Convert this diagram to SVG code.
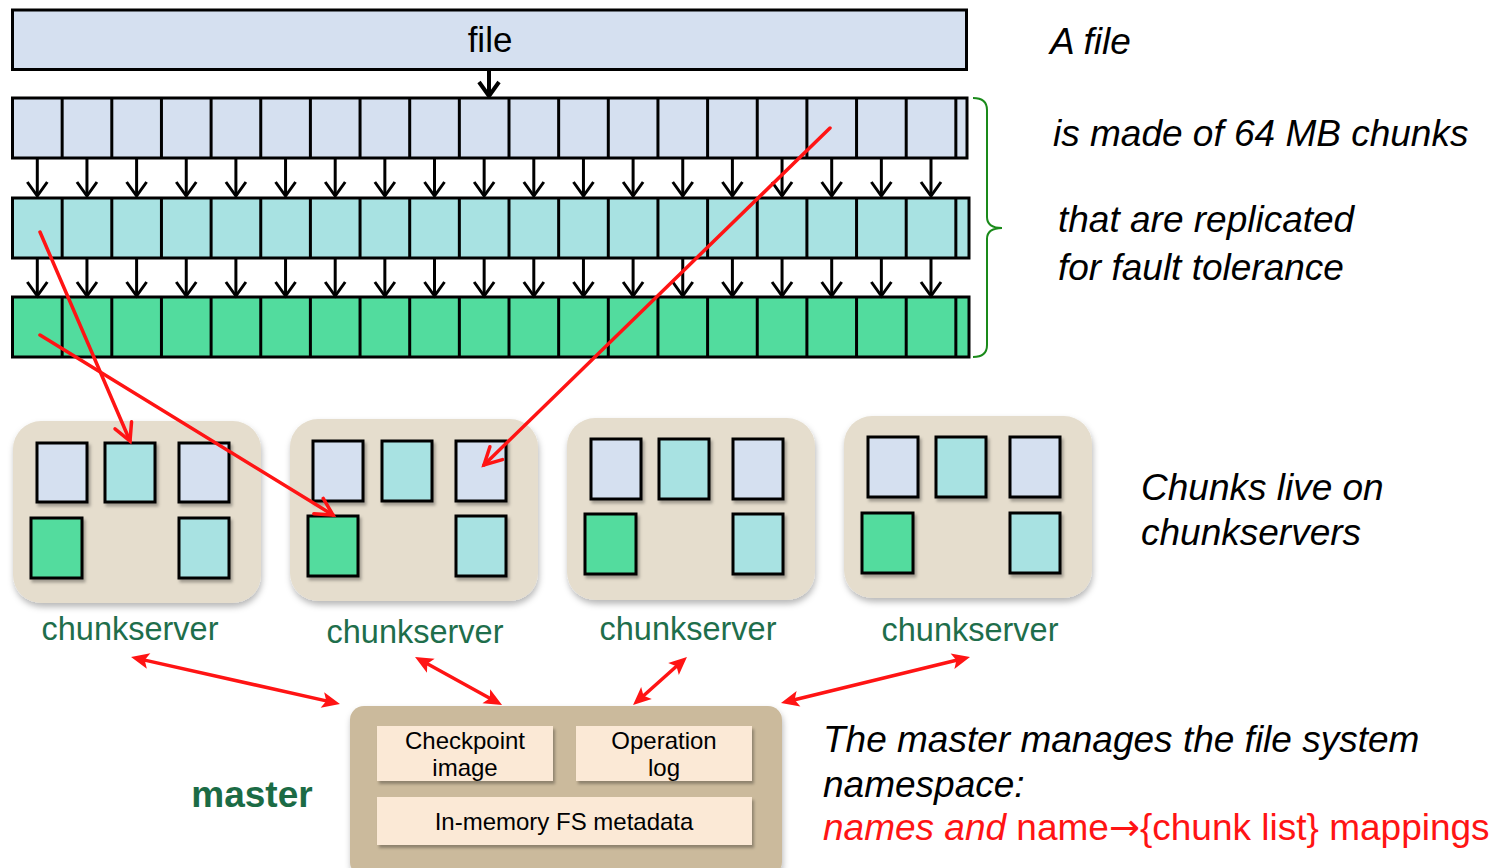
<svg xmlns="http://www.w3.org/2000/svg" xmlns:xlink="http://www.w3.org/1999/xlink" width="1508" height="868" viewBox="0 0 1508 868">
  <style>
    .cellrow { stroke: #000; stroke-width: 3; }
    .grid { stroke: #000; stroke-width: 3; fill: none; }
    .c-blue { fill: #d5e0f0; }
    .c-teal { fill: #a8e2e2; }
    .c-green { fill: #52dc9e; }
    .chunk { stroke: #000; stroke-width: 3; filter: url(#boxShadow); }
    .server { fill: #e5ddcd; filter: url(#serverShadow); }
    .cs-label { font-family: "Liberation Sans", Arial, sans-serif; font-size: 32.5px; fill: #1e6e4b; text-anchor: middle; }
    .note { font-family: "Liberation Sans", Arial, sans-serif; font-size: 37px; font-style: italic; fill: #000; }
    .inner { fill: #fbe9d6; filter: url(#boxShadow); }
    .inner-text { font-family: "Liberation Sans", Arial, sans-serif; font-size: 24px; fill: #000; text-anchor: middle; }
    .red { stroke: #ff1414; stroke-width: 3.5; fill: none; stroke-linecap: round; }
    .down line, .down path { stroke: #000; stroke-width: 3; fill: none; }
  </style>
  <defs>
    <filter id="serverShadow" x="-10%" y="-10%" width="125%" height="130%">
      <feDropShadow dx="1" dy="4" stdDeviation="3" flood-color="#000" flood-opacity="0.28"/>
    </filter>
    <filter id="boxShadow" x="-20%" y="-20%" width="150%" height="150%">
      <feDropShadow dx="2" dy="3" stdDeviation="1.5" flood-color="#000" flood-opacity="0.3"/>
    </filter>
    <marker id="openRed" markerUnits="userSpaceOnUse" markerWidth="40" markerHeight="40" orient="auto" overflow="visible">
      <path d="M-17,-9 L0,0 L-17,9" stroke="#ff1414" stroke-width="3.5" fill="none" stroke-linecap="round"/>
    </marker>
    <marker id="solidRed" markerUnits="userSpaceOnUse" markerWidth="40" markerHeight="40" refX="0" refY="0" orient="auto-start-reverse" overflow="visible">
      <path d="M-4,-8 L14,0 L-4,8 L0,0 Z" fill="#ff1414"/>
    </marker>
    <g id="down" class="down">
      <line x1="0" y1="0" x2="0" y2="38"/>
      <path d="M-10,24 L0,38 L10,24"/>
    </g>
  </defs>

  <rect width="1508" height="868" fill="#fff"/>

  <!-- whole file -->
  <g id="file">
    <rect x="12.5" y="10" width="954" height="59.5" class="c-blue cellrow"/>
    <text x="490" y="52" font-family="Liberation Sans, Arial, sans-serif" font-size="35" text-anchor="middle">file</text>
    <line x1="489" y1="70" x2="489" y2="95" stroke="#000" stroke-width="4"/>
    <path d="M479,82 L489,96 L499,82" stroke="#000" stroke-width="4" fill="none"/>
  </g>

  <!-- chunk row 1 -->
  <g id="chunks-primary">
    <rect x="12.5" y="98" width="954.5" height="60" class="c-blue cellrow"/>
    <path class="grid" d="M62.15,98V158M111.8,98V158M161.45,98V158M211.1,98V158M260.75,98V158M310.4,98V158M360.05,98V158M409.7,98V158M459.35,98V158M509,98V158M558.65,98V158M608.3,98V158M657.95,98V158M707.6,98V158M757.25,98V158M806.9,98V158M856.55,98V158M906.2,98V158M955.85,98V158"/>
  </g>

  <!-- chunk row 2 -->
  <g id="chunks-replica-1">
    <rect x="12.5" y="198" width="956.5" height="60" class="c-teal cellrow"/>
    <path class="grid" d="M62.15,198V258M111.8,198V258M161.45,198V258M211.1,198V258M260.75,198V258M310.4,198V258M360.05,198V258M409.7,198V258M459.35,198V258M509,198V258M558.65,198V258M608.3,198V258M657.95,198V258M707.6,198V258M757.25,198V258M806.9,198V258M856.55,198V258M906.2,198V258M955.85,198V258"/>
  </g>

  <!-- chunk row 3 -->
  <g id="chunks-replica-2">
    <rect x="12.5" y="297" width="956.5" height="60" class="c-green cellrow"/>
    <path class="grid" d="M62.15,297V357M111.8,297V357M161.45,297V357M211.1,297V357M260.75,297V357M310.4,297V357M360.05,297V357M409.7,297V357M459.35,297V357M509,297V357M558.65,297V357M608.3,297V357M657.95,297V357M707.6,297V357M757.25,297V357M806.9,297V357M856.55,297V357M906.2,297V357M955.85,297V357"/>
  </g>

  <!-- replication arrows between rows -->
  <g id="replication-arrows">
    <use href="#down" x="37.3" y="158"/><use href="#down" x="86.95" y="158"/><use href="#down" x="136.6" y="158"/><use href="#down" x="186.25" y="158"/><use href="#down" x="235.9" y="158"/><use href="#down" x="285.55" y="158"/><use href="#down" x="335.2" y="158"/><use href="#down" x="384.85" y="158"/><use href="#down" x="434.5" y="158"/><use href="#down" x="484.15" y="158"/><use href="#down" x="533.8" y="158"/><use href="#down" x="583.45" y="158"/><use href="#down" x="633.1" y="158"/><use href="#down" x="682.75" y="158"/><use href="#down" x="732.4" y="158"/><use href="#down" x="782.05" y="158"/><use href="#down" x="831.7" y="158"/><use href="#down" x="881.35" y="158"/><use href="#down" x="931" y="158"/>
    <use href="#down" x="37.3" y="258"/><use href="#down" x="86.95" y="258"/><use href="#down" x="136.6" y="258"/><use href="#down" x="186.25" y="258"/><use href="#down" x="235.9" y="258"/><use href="#down" x="285.55" y="258"/><use href="#down" x="335.2" y="258"/><use href="#down" x="384.85" y="258"/><use href="#down" x="434.5" y="258"/><use href="#down" x="484.15" y="258"/><use href="#down" x="533.8" y="258"/><use href="#down" x="583.45" y="258"/><use href="#down" x="633.1" y="258"/><use href="#down" x="682.75" y="258"/><use href="#down" x="732.4" y="258"/><use href="#down" x="782.05" y="258"/><use href="#down" x="831.7" y="258"/><use href="#down" x="881.35" y="258"/><use href="#down" x="931" y="258"/>
  </g>

  <!-- brace grouping the three rows -->
  <g id="brace">
    <path d="M973,98 Q987,98 987,110 L987,217 Q987,228 1002,228 Q987,228 987,239 L987,345 Q987,357 973,357" stroke="#1a8a1a" stroke-width="2" fill="none"/>
  </g>

  <!-- chunkservers -->
  <g id="chunkserver-1">
    <rect x="13" y="421" width="248" height="182" rx="28" class="server"/>
    <rect x="37" y="443" width="50" height="59" class="chunk c-blue"/>
    <rect x="105" y="443" width="50" height="59" class="chunk c-teal"/>
    <rect x="179" y="443" width="50" height="59" class="chunk c-blue"/>
    <rect x="31" y="518" width="51" height="60" class="chunk c-green"/>
    <rect x="179" y="518" width="50" height="60" class="chunk c-teal"/>
    <text x="130" y="640" class="cs-label">chunkserver</text>
  </g>
  <g id="chunkserver-2">
    <rect x="290" y="419" width="248" height="182" rx="28" class="server"/>
    <rect x="313" y="441" width="50" height="60" class="chunk c-blue"/>
    <rect x="382" y="441" width="50" height="60" class="chunk c-teal"/>
    <rect x="456" y="441" width="50" height="60" class="chunk c-blue"/>
    <rect x="308" y="516" width="50" height="60" class="chunk c-green"/>
    <rect x="456" y="516" width="50" height="60" class="chunk c-teal"/>
    <text x="415" y="643" class="cs-label">chunkserver</text>
  </g>
  <g id="chunkserver-3">
    <rect x="567" y="418" width="248" height="182" rx="28" class="server"/>
    <rect x="591" y="439" width="50" height="60" class="chunk c-blue"/>
    <rect x="659" y="439" width="50" height="60" class="chunk c-teal"/>
    <rect x="733" y="439" width="50" height="60" class="chunk c-blue"/>
    <rect x="585" y="514" width="51" height="60" class="chunk c-green"/>
    <rect x="733" y="514" width="50" height="60" class="chunk c-teal"/>
    <text x="688" y="640" class="cs-label">chunkserver</text>
  </g>
  <g id="chunkserver-4">
    <rect x="844" y="416" width="248" height="182" rx="28" class="server"/>
    <rect x="868" y="437" width="50" height="60" class="chunk c-blue"/>
    <rect x="936" y="437" width="50" height="60" class="chunk c-teal"/>
    <rect x="1010" y="437" width="50" height="60" class="chunk c-blue"/>
    <rect x="862" y="513" width="51" height="60" class="chunk c-green"/>
    <rect x="1010" y="513" width="50" height="60" class="chunk c-teal"/>
    <text x="970" y="641" class="cs-label">chunkserver</text>
  </g>

  <!-- master -->
  <g id="master">
    <rect x="350" y="706" width="432" height="170" rx="14" fill="#cbba9c" filter="url(#serverShadow)"/>
    <rect x="377" y="726" width="176" height="55" class="inner"/>
    <rect x="576" y="726" width="176" height="55" class="inner"/>
    <rect x="377" y="797" width="375" height="48" class="inner"/>
    <text x="465" y="749" class="inner-text">Checkpoint</text>
    <text x="465" y="776" class="inner-text">image</text>
    <text x="664" y="749" class="inner-text">Operation</text>
    <text x="664" y="776" class="inner-text">log</text>
    <text x="564" y="830" class="inner-text">In-memory FS metadata</text>
    <text x="252" y="807" font-family="Liberation Sans, Arial, sans-serif" font-size="37" font-weight="bold" fill="#1b6b45" text-anchor="middle">master</text>
  </g>

  <!-- connectors -->
  <g id="connectors">
    <line x1="830" y1="128" x2="484" y2="465" class="red" marker-end="url(#openRed)"/>
    <line x1="40" y1="232" x2="130" y2="441" class="red" marker-end="url(#openRed)"/>
    <line x1="40" y1="335" x2="333" y2="515" class="red" marker-end="url(#openRed)"/>
    <line x1="144.7" y1="660.1" x2="326.3" y2="700.9" class="red" stroke-linecap="butt" marker-start="url(#solidRed)" marker-end="url(#solidRed)"/>
    <line x1="427.3" y1="663.8" x2="489.8" y2="698.2" class="red" stroke-linecap="butt" marker-start="url(#solidRed)" marker-end="url(#solidRed)"/>
    <line x1="676.5" y1="666.3" x2="643.5" y2="695.7" class="red" stroke-linecap="butt" marker-start="url(#solidRed)" marker-end="url(#solidRed)"/>
    <line x1="956.4" y1="660.3" x2="794.6" y2="699.7" class="red" stroke-linecap="butt" marker-start="url(#solidRed)" marker-end="url(#solidRed)"/>
  </g>

  <!-- explanatory notes -->
  <g id="notes">
    <text x="1050" y="54" class="note">A file</text>
    <text x="1053" y="146" class="note">is made of 64 MB chunks</text>
    <text x="1058" y="232" class="note">that are replicated</text>
    <text x="1058" y="280" class="note">for fault tolerance</text>
    <text x="1141" y="500" class="note">Chunks live on</text>
    <text x="1141" y="545" class="note">chunkservers</text>
    <text x="823" y="752" class="note">The master manages the file system</text>
    <text x="823" y="797" class="note">namespace:</text>
    <text x="823" y="840" font-family="Liberation Sans, Arial, sans-serif" font-size="37" fill="#ff1414"><tspan font-style="italic">names and</tspan> name<tspan font-family="DejaVu Sans, sans-serif">→</tspan>{chunk list} mappings</text>
  </g>
</svg>
